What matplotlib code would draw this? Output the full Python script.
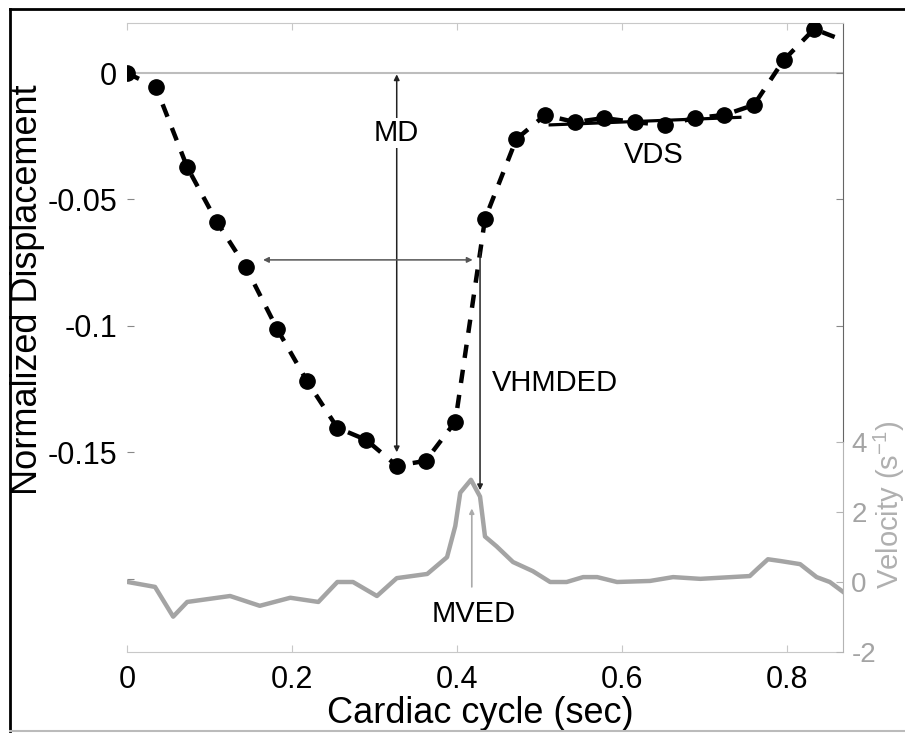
import matplotlib
matplotlib.use("Agg")
import matplotlib.pyplot as plt
from matplotlib.lines import Line2D

plt.rcParams['font.family'] = ['Liberation Sans', 'DejaVu Sans']

# displacement samples (sec, normalized)
disp_t = [0.0, 0.035, 0.073, 0.109, 0.144, 0.182, 0.218, 0.255, 0.290, 0.327, 0.362, 0.398,
          0.434, 0.472, 0.507, 0.543, 0.578, 0.616, 0.652, 0.688, 0.724, 0.760, 0.796, 0.833, 0.868]
disp_y = [0.0, -0.0055, -0.0372, -0.0589, -0.0767, -0.1012, -0.1217, -0.1403, -0.1451, -0.1553,
          -0.1534, -0.1379, -0.0577, -0.0261, -0.0166, -0.0194, -0.0178, -0.0194, -0.0206, -0.0178,
          -0.0166, -0.0126, 0.0051, 0.0174, 0.0130]

# velocity trace (sec, 1/s)
vel_t = [0.001, 0.034, 0.056, 0.073, 0.125, 0.161, 0.198, 0.232, 0.255, 0.274, 0.303, 0.327,
         0.364, 0.388, 0.398, 0.404, 0.417, 0.428, 0.434, 0.448, 0.468, 0.492, 0.513, 0.533,
         0.553, 0.570, 0.594, 0.634, 0.662, 0.695, 0.755, 0.764, 0.777, 0.792, 0.816, 0.836,
         0.852, 0.868]
vel_v = [0.0, -0.14, -0.99, -0.57, -0.40, -0.68, -0.45, -0.57, 0.0, 0.0, -0.40, 0.11,
         0.23, 0.71, 1.6, 2.55, 2.92, 2.44, 1.30, 1.02, 0.57, 0.31, 0.0, 0.0,
         0.14, 0.14, 0.0, 0.03, 0.14, 0.09, 0.17, 0.37, 0.65, 0.60, 0.51, 0.14,
         0.0, -0.28]

vds_t = [0.513, 0.743]
vds_y = [-0.0205, -0.0175]

yticks = [0, -0.05, -0.1, -0.15, -0.2]
ytick_labels = ['0', '-0.05', '-0.1', '-0.15', '']
xticks = [0, 0.2, 0.4, 0.6, 0.8]
xtick_labels = ['0', '0.2', '0.4', '0.6', '0.8']
vticks = [-2, 0, 2, 4]

light = '#c8c8c8'
vel_gray = '#a4a4a4'

fig = plt.figure(figsize=(9.05, 7.33), dpi=100)
ax = fig.add_axes([0.1403, 0.1105, 0.7912, 0.8581])
ax.set_xlim(0, 0.868)
ax.set_ylim(-0.229, 0.0198)

ax.axhline(0, color='#bdbdbd', lw=1.5, zorder=1)
ax.plot(disp_t, disp_y, color='black', lw=3.2, linestyle=(0, (3, 2.7)),
        marker='o', markersize=11, markevery=list(range(len(disp_t) - 1)), zorder=3)
ax.plot(vds_t, vds_y, color='black', lw=2.3, zorder=3)

# annotations
ax.annotate('', xy=(0.327, -0.150), xytext=(0.327, -0.0005),
            arrowprops=dict(arrowstyle='<|-|>', color='#222222', lw=1.1,
                            mutation_scale=8, shrinkA=0, shrinkB=0))
ax.text(0.327, -0.0237, 'MD', ha='center', va='center', fontsize=21,
        bbox=dict(facecolor='white', edgecolor='none', pad=1))
ax.annotate('', xy=(0.419, -0.0739), xytext=(0.165, -0.0739),
            arrowprops=dict(arrowstyle='<|-|>', color='#555555', lw=1.1,
                            mutation_scale=8, shrinkA=0, shrinkB=0))
ax.annotate('', xy=(0.428, -0.165), xytext=(0.428, -0.0708),
            arrowprops=dict(arrowstyle='-|>', color='#222222', lw=1.1,
                            mutation_scale=8, shrinkA=0, shrinkB=0))
ax.text(0.442, -0.1225, 'VHMDED', ha='left', va='center', fontsize=21)
ax.text(0.638, -0.0325, 'VDS', ha='center', va='center', fontsize=21)

ax.spines['left'].set_visible(False)
ax.spines['top'].set_color(light)
ax.spines['bottom'].set_color(light)
ax.spines['right'].set_color('#666666')
ax.spines['right'].set_bounds(-0.1458, 0.0198)

ax.set_yticks(yticks)
ax.set_yticklabels(ytick_labels, fontsize=22)
ax.set_xticks(xticks)
ax.set_xticklabels(xtick_labels, fontsize=22)
ax.tick_params(axis='y', direction='in', length=5, color='#888888', pad=7,
               left=True, right=True)
ax.tick_params(axis='x', direction='in', length=5, color=light, pad=9,
               top=True, bottom=True)
yt = ax.yaxis.get_major_ticks()
yt[3].tick2line.set_visible(False)
yt[4].tick2line.set_visible(False)

ax.set_xlabel('Cardiac cycle (sec)', fontsize=26)
ax.xaxis.set_label_coords(0.494, -0.07)
ax.set_ylabel('Normalized Displacement', fontsize=26)
ax.yaxis.set_label_coords(-0.115, 0.5755)

# velocity axis in the lower part
ax2 = fig.add_axes([0.1403, 0.1105, 0.7912, 0.2865])
ax2.patch.set_visible(False)
ax2.set_xlim(0, 0.868)
ax2.set_ylim(-2, 4)
ax2.plot(vel_t, vel_v, color=vel_gray, lw=3.2, solid_joinstyle='round')
ax2.annotate('', xy=(0.418, 2.1), xytext=(0.418, -0.14),
             arrowprops=dict(arrowstyle='-|>', color='#aaaaaa', lw=1.2,
                             mutation_scale=7, shrinkA=0, shrinkB=0))
ax2.text(0.42, -0.9, 'MVED', ha='center', va='center', fontsize=21)
for s in ['left', 'top', 'bottom']:
    ax2.spines[s].set_visible(False)
ax2.spines['right'].set_color('#b4b4b4')
ax2.set_xticks([])
ax2.yaxis.tick_right()
ax2.yaxis.set_label_position('right')
ax2.set_yticks(vticks)
ax2.set_yticklabels([str(v) for v in vticks], fontsize=20, color=vel_gray)
ax2.tick_params(axis='y', direction='in', length=5, color='#b4b4b4', pad=6)
ax2.set_ylabel('Velocity (s$^{\\mathregular{-1}}$)', fontsize=21, color='#b0b0b0')
ax2.yaxis.set_label_coords(1.040, 0.70)

# outer frame
fig.add_artist(Line2D([0.0115, 0.0115], [0.0027, 0.9880], transform=fig.transFigure,
                      color='black', lw=2))
fig.add_artist(Line2D([0.0115, 1.0], [0.9880, 0.9880], transform=fig.transFigure,
                      color='black', lw=2))
fig.add_artist(Line2D([0.0115, 1.0], [0.0027, 0.0027], transform=fig.transFigure,
                      color='#bbbbbb', lw=1.5))

fig.savefig('out.png', dpi=100)
